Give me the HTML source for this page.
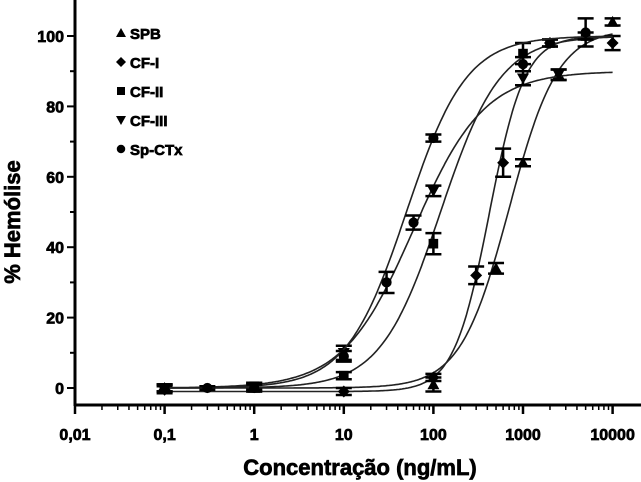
<!DOCTYPE html>
<html><head><meta charset="utf-8"><style>
body{margin:0;background:#fff}
svg{display:block;font-family:"Liberation Sans",Arial,sans-serif;font-weight:bold}
svg text{stroke:#000;stroke-width:0.7px}
</style></head><body>
<svg id="c" width="641" height="482" viewBox="0 0 641 482"></svg>
<script>
const seriesNames=["SPB","CF-I","CF-II","CF-III","Sp-CTx"];
const markerShapes=["tri","dia","sq","itri","circ"];
const spbX=[0.1,1,100,500,1000,2500,10000];
const spbY=[0,0,1,34,64,89,104];
const spbE=[1,1,2,1.5,1,1.5,1];
const cf1X=[0.1,10,100,300,600,2000,10000];
const cf1Y=[-0.5,-1,3,32,64,98,98];
const cf1E=[1,1,1,2.5,4,1,2];
const cf2X=[0.1,1,10,100,1000,2000,5000];
const cf2Y=[0,0.5,3.5,41,95,98,100];
const cf2E=[1,1,1,3,3,1,1];
const cf3X=[0.1,1,10,100,1000,2500];
const cf3Y=[0,0.5,10,56,88,89];
const cf3E=[1,1,2,1.5,2,1.5];
const ctxX=[0.1,0.3,1,10,30,60,100,1000,5000];
const ctxY=[0,0,0,9,30,47,71,92,101];
const ctxE=[1,0.5,1,1.5,3,2,1,2,4];
// 4PL fit params: bottom, top, EC50, hill
const fitBottom=[0,-1,0,0,0];
const fitTop=[102,100,100,90,100];
const fitEC50=[700,420,120,60,50];
const fitHill=[1.6,2.2,1.3,1.1,1.3];
const xTickLabels=["0,01","0,1","1","10","100","1000","10000"];
const xTickValues=[0.01,0.1,1,10,100,1000,10000];
const yTickValues=[0,20,40,60,80,100];

const allX=[spbX,cf1X,cf2X,cf3X,ctxX],allY=[spbY,cf1Y,cf2Y,cf3Y,ctxY],allE=[spbE,cf1E,cf2E,cf3E,ctxE];
const X=v=>75+89.6*(Math.log10(v)+2);
const Y=v=>388-3.52*v;
const svg=document.getElementById('c');
const NS="http://www.w3.org/2000/svg";
function mk(t,a,p){const e=document.createElementNS(NS,t);for(const k in a)e.setAttribute(k,a[k]);(p||svg).appendChild(e);return e;}
let ax=mk('line',{x1:75,y1:0,x2:75,y2:406,stroke:'#000','stroke-width':3});


let bx=mk('line',{x1:74,y1:405,x2:641,y2:405,stroke:'#000','stroke-width':3});


for(let v=-10;v<=110;v+=10){if(v<-5)continue;const y=Y(v);if(y<2)continue;
 const t=mk('line',{x1:v%20==0?67:70,y1:y,x2:75,y2:y,stroke:'#000','stroke-width':2});
 
 }
yTickValues.forEach(v=>{const t=mk('text',{x:64,y:Y(v)+6,'text-anchor':'end','font-size':16});t.textContent=v;
 
 });
for(let d=-2;d<4;d++)for(let m=1;m<10;m++){const x=X(Math.pow(10,d)*m);
 const t=mk('line',{x1:x,y1:405,x2:x,y2:m==1?414:410,stroke:'#000','stroke-width':m==1?2.5:1.5});
 
 }
{const t=mk('line',{x1:X(10000),y1:405,x2:X(10000),y2:414,stroke:'#000','stroke-width':2.5});
 
 }
xTickValues.forEach((v,i)=>{const t=mk('text',{x:X(v),y:440,'text-anchor':'middle','font-size':16});t.textContent=xTickLabels[i];
 
 });
let xt=mk('text',{x:360,y:475,'text-anchor':'middle','font-size':22});xt.textContent="Concentração (ng/mL)";


let yt=mk('text',{x:0,y:0,'text-anchor':'middle','font-size':22,transform:'translate(20,222) rotate(-90)'});yt.textContent="% Hemólise";


function marker(s,x,y,r,name){let e;
 if(s=='tri')e=mk('polygon',{points:`${x},${y-r} ${x-r},${y+r*0.8} ${x+r},${y+r*0.8}`});
 else if(s=='itri')e=mk('polygon',{points:`${x},${y+r} ${x-r},${y-r*0.8} ${x+r},${y-r*0.8}`});
 else if(s=='dia')e=mk('polygon',{points:`${x},${y-r} ${x+r},${y} ${x},${y+r} ${x-r},${y}`});
 else if(s=='sq')e=mk('rect',{x:x-r*0.8,y:y-r*0.8,width:r*1.6,height:r*1.6});
 else e=mk('circle',{cx:x,cy:y,r:r*0.85});
 e.setAttribute('fill','#000');
 
 }
for(let i=0;i<5;i++){let d="";
 for(let k=0;k<=300;k++){const lx=-1+5*k/300,v=Math.pow(10,lx);
  const y=fitBottom[i]+(fitTop[i]-fitBottom[i])/(1+Math.pow(fitEC50[i]/v,fitHill[i]));
  d+=(k?"L":"M")+X(v).toFixed(1)+","+Y(y).toFixed(1);}
 const p=mk('path',{d:d,fill:'none',stroke:'#222','stroke-width':1.6});
 
 
 allX[i].forEach((xv,j)=>{const x=X(xv),y=Y(allY[i][j]),e=allE[i][j]*3.52;
  const eb=mk('path',{d:`M${x},${y-e}V${y+e}M${x-8},${y-e}H${x+8}M${x-8},${y+e}H${x+8}`,stroke:'#000','stroke-width':2.5,fill:'none'});
  
  
  marker(markerShapes[i],x,y,6,'point-'+seriesNames[i].toLowerCase());});
}
seriesNames.forEach((n,i)=>{const y=33+29*i;
 marker(markerShapes[i],121,y,5,'legend-marker');
 const t=mk('text',{x:130,y:y+6,'font-size':15});t.textContent=n;
 
 });
</script>
</body></html>
